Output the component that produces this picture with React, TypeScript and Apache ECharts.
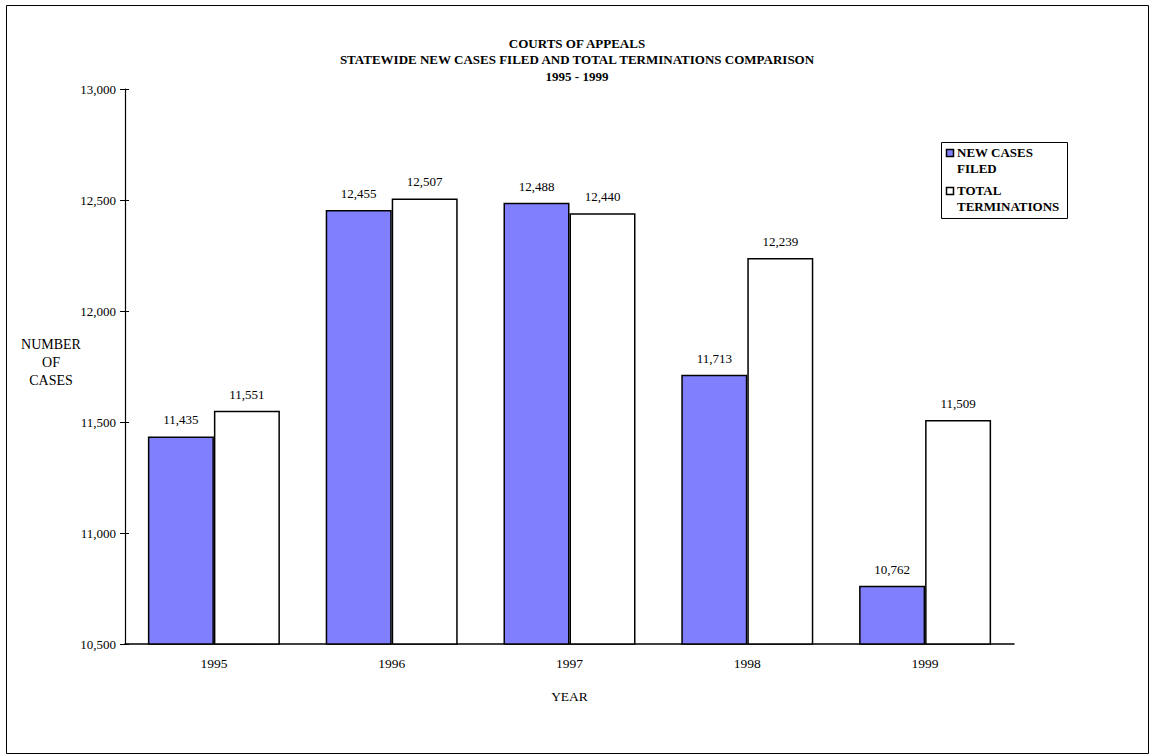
import React, { useEffect, useRef } from "react";
import * as echarts from "echarts";

const years = ["1995", "1996", "1997", "1998", "1999"];
const newCasesFiled = [11435, 12455, 12488, 11713, 10762];
const totalTerminations = [11551, 12507, 12440, 12239, 11509];
const titleLines = [
  "COURTS OF APPEALS",
  "STATEWIDE NEW CASES FILED AND TOTAL TERMINATIONS COMPARISON",
  "1995 - 1999",
];
const legendNames = ["NEW CASES\nFILED", "TOTAL\nTERMINATIONS"];

const FONT = "'Liberation Serif', 'Times New Roman', serif";

export default function App() {
  const ref = useRef<HTMLDivElement>(null);
  useEffect(() => {
    if (!ref.current) return;
    const chart = echarts.init(ref.current, null, { renderer: "svg" });
    const fmt = (v: number) => v.toLocaleString("en-US");
    const labelCommon = {
      show: true,
      position: "top" as const,
      distance: 10,
      color: "#000",
      fontFamily: FONT,
      fontSize: 13,
      formatter: (p: any) => fmt(p.value),
    };
    chart.setOption({
      animation: false,
      backgroundColor: "#fff",
      textStyle: { fontFamily: FONT },
      grid: { left: 125, right: 142, top: 89, bottom: 111, containLabel: false },
      xAxis: {
        type: "category",
        data: years,
        name: "YEAR",
        nameLocation: "middle",
        nameGap: 45,
        nameTextStyle: { color: "#000", fontFamily: FONT, fontSize: 13.5 },
        axisLine: { lineStyle: { color: "#000", width: 1.5 } },
        axisTick: { show: false },
        axisLabel: { color: "#000", fontFamily: FONT, fontSize: 13.5, margin: 12 },
      },
      yAxis: [
        {
          type: "value",
          min: 10500,
          max: 13000,
          interval: 500,
          axisLine: { show: true, lineStyle: { color: "#000", width: 1.2 } },
          axisTick: { show: true, length: 5, lineStyle: { color: "#000" } },
          splitLine: { show: false },
          axisLabel: {
            color: "#000",
            fontFamily: FONT,
            fontSize: 13,
            margin: 9,
            formatter: (v: number) => fmt(v),
          },
        },
        {
          type: "value",
          position: "left",
          min: 10500,
          max: 13000,
          interval: 500,
          axisLine: { show: false },
          axisTick: { show: true, inside: true, length: 4, lineStyle: { color: "#000" } },
          splitLine: { show: false },
          axisLabel: { show: false },
        },
      ],
      series: [
        {
          name: "NEW CASES FILED",
          type: "bar",
          data: newCasesFiled,
          barWidth: 66,
          barGap: "0%",
          itemStyle: { color: "#8080FF", borderColor: "#000", borderWidth: 1.5 },
          label: labelCommon,
        },
        {
          name: "TOTAL TERMINATIONS",
          type: "bar",
          data: totalTerminations,
          barWidth: 66,
          barGap: "0%",
          itemStyle: { color: "#FFFFFF", borderColor: "#000", borderWidth: 1.5 },
          label: labelCommon,
        },
      ],
      graphic: [
        {
          type: "rect",
          shape: { x: 6.5, y: 5.5, width: 1142, height: 748 },
          style: { fill: "none", stroke: "#000", lineWidth: 1 },
          silent: true,
        },
        ...titleLines.map((t, i) => ({
          type: "text",
          x: 577,
          y: 43 + i * 16.5,
          style: {
            text: t,
            fill: "#000",
            font: `bold 13px ${FONT}`,
            textAlign: "center",
            textVerticalAlign: "middle",
          },
        })),
        {
          type: "text",
          x: 51,
          y: 362,
          style: {
            text: "NUMBER\nOF\nCASES",
            fill: "#000",
            font: `14px ${FONT}`,
            textAlign: "center",
            textVerticalAlign: "middle",
            lineHeight: 18,
          },
        },
        {
          type: "rect",
          shape: { x: 941.5, y: 142.5, width: 126, height: 76 },
          style: { fill: "#fff", stroke: "#000", lineWidth: 1 },
        },
        {
          type: "rect",
          shape: { x: 946.5, y: 149.5, width: 7, height: 7 },
          style: { fill: "#8080FF", stroke: "#000", lineWidth: 1.5 },
        },
        {
          type: "rect",
          shape: { x: 946.5, y: 187.5, width: 7, height: 7 },
          style: { fill: "#fff", stroke: "#000", lineWidth: 1.5 },
        },
        ...legendNames.map((t, i) => ({
          type: "text",
          x: 957,
          y: 145 + i * 38,
          style: {
            text: t,
            fill: "#000",
            font: `bold 13px ${FONT}`,
            textAlign: "left",
            textVerticalAlign: "top",
            lineHeight: 15.5,
          },
        })),
      ],
    });
    return () => chart.dispose();
  }, []);
  return (
    <div
      ref={ref}
      style={{ position: "fixed", left: 0, top: 0, width: 1156, height: 755, background: "#fff" }}
    />
  );
}
